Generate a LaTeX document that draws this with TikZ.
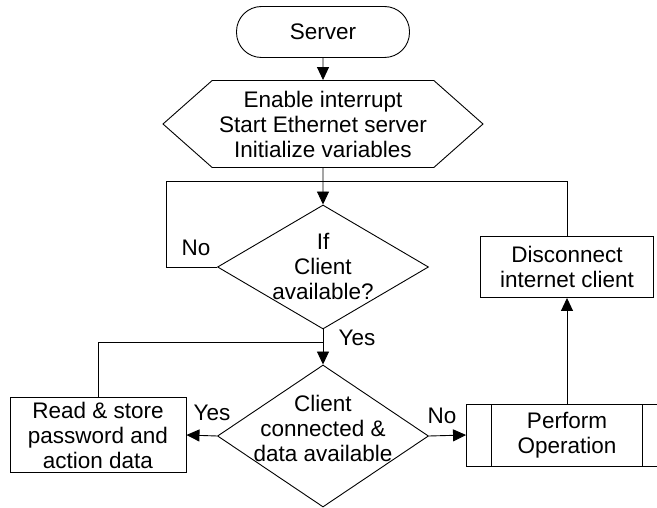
\documentclass[tikz,border=0pt]{standalone}
\usepackage{fontspec}
\setmainfont{Liberation Sans}
\usetikzlibrary{shapes.geometric,shapes.symbols,arrows.meta}

\begin{document}
\begin{tikzpicture}[x=1pt,y=-1pt,line width=0.9pt,
    every node/.style={font=\fontsize{22.5}{25}\selectfont,align=center,inner sep=0pt},
    term/.style={draw,rectangle,rounded corners=25pt,minimum width=173pt,minimum height=51pt},
    prep/.style={draw,signal,signal to=east and west,signal pointer angle=83,minimum width=320pt,minimum height=87pt},
    decide/.style={draw,diamond,minimum width=211pt,minimum height=#1},
    procbox/.style={draw,rectangle,minimum width=#1,minimum height=61pt},
    subproc/.style={draw,rectangle,minimum width=201pt,minimum height=62pt,
        path picture={
            \draw ([xshift=25pt]path picture bounding box.north west) -- ([xshift=25pt]path picture bounding box.south west);
            \draw ([xshift=-25pt]path picture bounding box.north east) -- ([xshift=-25pt]path picture bounding box.south east);}},
    arr/.style={-{Triangle[length=13pt,width=12pt]}}]
    \useasboundingbox (0,0) rectangle (657,508);
    \node[term] (server) at (323,32) {Server};
    \node[prep] (init) at (323,124) {Enable interrupt\\Start Ethernet server\\Initialize variables};
    \node[decide=124pt] (avail) at (323,267) {};
    \node (availtext) at (323,266) {If\\Client\\available?};
    \node[procbox=173pt] (disc) at (567,267) {Disconnect\\internet client};
    \node[decide=142pt] (conn) at (323,436) {};
    \node (conntext) at (323,428) {Client\\connected \&\\data available};
    \node[draw,rectangle,minimum width=176pt,minimum height=75pt] (read) at (98,435) {Read \& store\\password and\\action data};
    \node[subproc] (perf) at (567,435) {Perform\\Operation};
    \coordinate (top) at (323,181);
    \coordinate (mid) at (323,342);
    % labels
    \node (no1) at (196,248) {No};
    \node (yes1) at (357,338) {Yes};
    \node (yes2) at (212,413) {Yes};
    \node (no2) at (442,416) {No};
    % connectors
    \draw[arr] (server) -- (init);
    \draw[arr] (init) -- (avail);
    \draw (avail.west) -- ++(-51,0) |- (top);
    \draw (disc.north) |- (top);
    \draw[arr] (avail) -- (conn);
    \draw (read.north) |- (mid);
    \draw[arr] (conn.west) -- (read.east);
    \draw[arr] (conn.east) -- (perf.west);
    \draw[arr] (perf.north) -- (disc.south);
\end{tikzpicture}
\end{document}
